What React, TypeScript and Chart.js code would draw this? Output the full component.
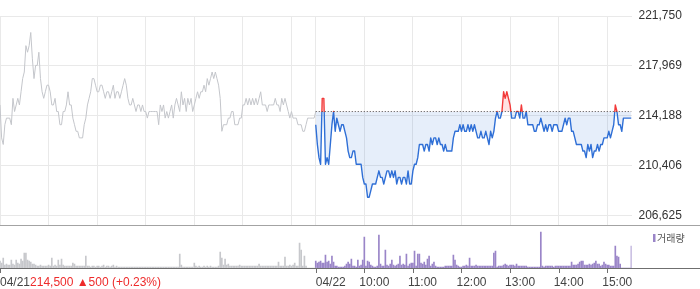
import React, { useEffect, useRef } from "react";
import { Chart, registerables } from "chart.js";

Chart.register(...registerables);

const PREV_CLOSE = 214500;
const SESSION_MINUTES = 390;
const STEP_MINUTES = 2;
const HOUR_OFFSETS = [0, 60, 120, 180, 240, 300, 360];
const DAY_LABELS = ["04/21", "04/22"];
const HOUR_LABELS = ["10:00", "11:00", "12:00", "13:00", "14:00", "15:00"];
const PREV_DAY_SUMMARY = "214,500 \u25B2500 (+0.23%)";
const VOLUME_LABEL = "거래량";
const PRICE_TICKS = [206625, 210406.25, 214187.5, 217968.75, 221750];
const PRICE_MIN = 205889;
const PRICE_MAX = 221750;
const VOLUME_MAX = 42;

const prevDayPrices = [
  215000, 212500, 212000, 213500, 214000, 214000, 214000, 213500, 215500, 214500,
  215000, 215500, 215000, 216000, 217000, 217500, 219500, 219000, 219500, 220500,
  218500, 217000, 218000, 218000, 219000, 217000, 216000, 215500, 216000, 216500,
  216500, 216000, 215000, 215000, 215500, 214500, 214500, 213500, 213500, 214500,
  214500, 215000, 216000, 215000, 215000, 214000, 213500, 213000, 213000, 212500,
  212500, 212500, 213500, 214000, 215000, 215500, 216000, 217000, 217000, 216500,
  216000, 216000, 216500, 216500, 216000, 215500, 216000, 216000, 215500, 216000,
  216500, 215500, 216000, 216000, 215500, 216000, 216500, 217000, 216500, 215500,
  215000, 215000, 215500, 215000, 214500, 215000, 215000, 214500, 215000, 214500,
  214500, 214000, 214500, 214500, 214500, 214500, 214500, 214500, 213500, 215000,
  214500, 215000, 214000, 214500, 214000, 214500, 215000, 214000, 215000, 215500,
  215000, 214500, 216000, 215000, 215500, 214500, 215500, 215000, 215500, 214500,
  215000, 215500, 216000, 215500, 216000, 216000, 216500, 216000, 217000, 216500,
  217000, 217500, 217000, 217500, 217000, 216500, 215500, 213000, 213500, 213500,
  213500, 214000, 214000, 214500, 214500, 213500, 213500, 213500, 214000, 214000,
  215000, 215000, 215500, 215000, 215500, 215000, 215500, 215000, 215500, 215000,
  215500, 216000, 215000, 215000, 215000, 214500, 215000, 215000, 215000, 215000,
  215500, 215000, 215000, 214500, 215500, 215000, 215500, 215000, 214500, 214000,
  214500, 214000, 214000, 214000, 213500, 213500, 213500, 213000, 213000, 213500,
  214000, 214000, 214000, 214000, 214000, 214500,
];

const todayPrices = [
  213500, 212000, 211000, 210500, 215500, 215500, 210500, 211000, 210500, 212000,
  213500, 214500, 213000, 214000, 213500, 213000, 213500, 213500, 213000, 212500,
  211500, 211000, 211000, 211500, 211500, 210500, 210500, 210500, 210500, 209500,
  209000, 209000, 208000, 208000, 208500, 209000, 209000, 209000, 209500, 210000,
  209500, 209500, 209000, 209500, 210000, 210000, 209500, 210000, 209500, 210000,
  209000, 209500, 209500, 209000, 209500, 209500, 209000, 210000, 209000, 209000,
  210000, 210500, 210500, 211000, 212000, 212000, 212000, 211500, 212000, 212000,
  211500, 212500, 212000, 212500, 212500, 212000, 212500, 212000, 212000, 211500,
  212000, 211500, 211500, 211500, 211500, 212500, 213000, 213000, 213000, 213500,
  213000, 213500, 213000, 213000, 213500, 213000, 213500, 213000, 213500, 213000,
  212500, 212500, 213000, 212500, 212500, 213000, 212500, 212000, 213000, 212500,
  213000, 214000, 214500, 214000, 214000, 214500, 216000, 215500, 216000, 215500,
  215000, 214000, 214000, 214000, 214500, 214500, 214000, 215000, 214000, 214000,
  214500, 213500, 213500, 213500, 213500, 213000, 213000, 213500, 213500, 214000,
  213500, 213000, 213500, 213000, 213500, 213500, 213000, 213500, 213500, 213500,
  213000, 213000, 213000, 213500, 214000, 213500, 214000, 214000, 213000, 213000,
  212500, 212000, 212000, 212000, 212000, 211500, 211500, 211000, 212000, 211500,
  212000, 211000, 211500, 211500, 212000, 211500, 212000, 212000, 212500, 212500,
  212500, 213000, 212500, 213000, 213500, 215000, 214500, 213500, 213500, 213000,
  214000, 214000, 214000, 214000, 214000, 214000,
];

const prevDayVolume = [
  7, 5, 10, 3, 4, 3, 3, 8, 4, 3,
  8, 5, 4, 9, 7, 15, 15, 8, 7, 6,
  4, 4, 3, 2, 2, 3, 2, 2, 2, 2,
  3, 2, 10, 2, 3, 2, 8, 3, 9, 3,
  2, 2, 2, 2, 2, 5, 4, 2, 2, 2,
  2, 2, 2, 12, 2, 2, 1, 2, 2, 1,
  2, 2, 1, 2, 3, 1, 2, 2, 1, 2,
  3, 1, 2, 1, 1, 1, 1, 1, 1, 1,
  1, 1, 1, 1, 1, 1, 1, 1, 1, 1,
  1, 1, 1, 1, 1, 1, 1, 1, 1, 1,
  1, 1, 1, 1, 1, 1, 1, 1, 1, 1,
  1, 14, 3, 1, 1, 1, 1, 1, 1, 1,
  5, 2, 1, 2, 1, 1, 2, 1, 2, 1,
  2, 1, 1, 1, 1, 2, 16, 10, 3, 9,
  3, 4, 2, 2, 2, 2, 2, 2, 3, 2,
  2, 2, 2, 2, 2, 2, 2, 2, 2, 2,
  4, 2, 2, 2, 2, 2, 2, 2, 2, 2,
  2, 2, 6, 2, 2, 2, 11, 2, 2, 3,
  2, 3, 5, 2, 2, 25, 18, 2, 12, 2,
  0, 0, 0, 0, 0, 0,
];

const todayVolume = [
  7, 5, 6, 7, 5, 5, 13, 6, 7, 4,
  12, 6, 2, 2, 1, 1, 1, 1, 2, 4,
  6, 4, 9, 2, 2, 1, 8, 2, 3, 8,
  31, 2, 7, 6, 3, 2, 1, 1, 2, 33,
  4, 2, 2, 18, 3, 2, 4, 8, 3, 2,
  3, 4, 12, 3, 4, 3, 14, 2, 4, 5,
  5, 17, 2, 14, 14, 5, 4, 6, 3, 9,
  12, 2, 4, 6, 2, 1, 1, 1, 1, 1,
  2, 2, 2, 2, 2, 13, 8, 3, 2, 1,
  1, 2, 2, 3, 2, 10, 2, 2, 2, 3,
  2, 2, 2, 2, 2, 2, 2, 2, 2, 2,
  15, 17, 1, 2, 2, 2, 3, 4, 3, 2,
  3, 3, 3, 2, 4, 2, 2, 2, 2, 2,
  2, 1, 1, 1, 1, 1, 1, 1, 1, 36,
  2, 1, 2, 2, 2, 2, 2, 1, 2, 2,
  2, 2, 2, 2, 2, 2, 2, 2, 6, 3,
  3, 3, 4, 6, 7, 7, 3, 3, 3, 4,
  3, 4, 5, 7, 4, 4, 2, 3, 6, 4,
  3, 3, 2, 2, 2, 22, 12, 11, 4, 0,
  0, 0, 0, 0, 0, 22,
];

const LABEL_FONT = '12px "Liberation Sans", Arial, sans-serif';
const GRID_COLOR = "#e9e9e9";
const BLUE = "#2f6fd6";
const RED = "#f23a3a";

const gridMinutes = [
  ...HOUR_OFFSETS.map((h) => h),
  ...HOUR_OFFSETS.map((h) => SESSION_MINUTES + h),
];

function splitColor(chart: any) {
  const { ctx, chartArea, scales } = chart;
  if (!chartArea || !scales || !scales.y) return BLUE;
  const y = scales.y.getPixelForValue(PREV_CLOSE);
  const h = chartArea.bottom - chartArea.top;
  let t = (y - chartArea.top) / h;
  t = Math.min(Math.max(t, 0), 1);
  const g = ctx.createLinearGradient(0, chartArea.top, 0, chartArea.bottom);
  g.addColorStop(0, RED);
  g.addColorStop(t, RED);
  g.addColorStop(t, BLUE);
  g.addColorStop(1, BLUE);
  return g;
}

const priceDecor = {
  id: "priceDecor",
  afterDraw(chart: any) {
    const { ctx, chartArea } = chart;
    ctx.save();
    ctx.strokeStyle = "#a3a3a3";
    ctx.lineWidth = 1;
    ctx.beginPath();
    ctx.moveTo(0, chartArea.bottom + 0.5);
    ctx.lineTo(chart.width, chartArea.bottom + 0.5);
    ctx.stroke();
    ctx.restore();
  },
};

const volumeDecor = {
  id: "volumeDecor",
  afterDraw(chart: any) {
    const { ctx, chartArea, scales } = chart;
    const xs = scales.x;
    const base = chartArea.bottom;
    ctx.save();
    ctx.strokeStyle = "#6f6f6f";
    ctx.lineWidth = 1;
    ctx.beginPath();
    ctx.moveTo(0, base + 0.5);
    ctx.lineTo(chart.width, base + 0.5);
    const tickMinutes = [0, ...HOUR_OFFSETS.map((h) => SESSION_MINUTES + h)];
    for (const m of tickMinutes) {
      const x = Math.round(xs.getPixelForValue(m)) + 0.5;
      ctx.moveTo(x, base);
      ctx.lineTo(x, base + 5);
    }
    ctx.stroke();

    ctx.font = LABEL_FONT;
    ctx.textBaseline = "middle";
    ctx.textAlign = "left";
    const ly = base + 14.5;
    const x0 = xs.getPixelForValue(0);
    ctx.fillStyle = "#444";
    ctx.fillText(DAY_LABELS[0], x0, ly);
    const w = ctx.measureText(DAY_LABELS[0]).width;
    ctx.fillStyle = "#ee2b2b";
    ctx.fillText(PREV_DAY_SUMMARY, x0 + w, ly);
    ctx.fillStyle = "#444";
    ctx.fillText(DAY_LABELS[1], xs.getPixelForValue(SESSION_MINUTES), ly);
    HOUR_LABELS.forEach((lab, k) => {
      const x = xs.getPixelForValue(SESSION_MINUTES + HOUR_OFFSETS[k + 1]);
      ctx.fillText(lab, x - 5, ly);
    });

    // legend
    const lx = chartArea.right + 21.5;
    ctx.fillStyle = "#9a85c8";
    ctx.fillRect(lx, 8, 2.5, 8);
    ctx.fillStyle = "#555";
    ctx.font = '10px "Noto Sans CJK KR", sans-serif';
    ctx.fillText(VOLUME_LABEL, lx + 4, 12.5);
    ctx.restore();
  },
};

export default function App() {
  const priceRef = useRef<HTMLCanvasElement | null>(null);
  const volRef = useRef<HTMLCanvasElement | null>(null);

  useEffect(() => {
    if (!priceRef.current || !volRef.current) return;

    const priceChart = new Chart(priceRef.current, {
      type: "line",
      data: {
        datasets: [
          {
            label: "prevClose",
            data: [
              { x: SESSION_MINUTES, y: PREV_CLOSE },
              { x: SESSION_MINUTES * 2, y: PREV_CLOSE },
            ],
            borderColor: "#4a4a4a",
            borderWidth: 1,
            borderDash: [1, 2],
            pointRadius: 0,
            fill: false,
          },
          {
            label: "today",
            data: todayPrices.map((p, i) => ({ x: SESSION_MINUTES + i * STEP_MINUTES, y: p })),
            borderColor: (c: any) => splitColor(c.chart),
            borderWidth: 1.4,
            borderJoinStyle: "round",
            pointRadius: 0,
            fill: {
              target: { value: PREV_CLOSE },
              above: "rgba(255,80,80,0.16)",
              below: "rgba(46,112,216,0.12)",
            },
          },
          {
            label: "prev",
            data: prevDayPrices.map((p, i) => ({ x: i * STEP_MINUTES, y: p })),
            borderColor: "#c4c6cb",
            borderWidth: 1,
            borderJoinStyle: "round",
            pointRadius: 0,
            fill: false,
          },
        ] as any,
      },
      options: {
        responsive: false,
        animation: false,
        events: [],
        layout: { padding: { top: 16, bottom: 1, left: 0, right: 0 } },
        plugins: { legend: { display: false }, tooltip: { enabled: false } },
        scales: {
          x: {
            type: "linear",
            min: 0,
            max: SESSION_MINUTES * 2,
            afterBuildTicks: (s: any) => {
              s.ticks = gridMinutes.map((v) => ({ value: v }));
            },
            ticks: { display: false },
            grid: { color: GRID_COLOR, drawTicks: false },
            border: { display: false },
          },
          y: {
            position: "right",
            min: PRICE_MIN,
            max: PRICE_MAX,
            afterBuildTicks: (s: any) => {
              s.ticks = PRICE_TICKS.map((v) => ({ value: v }));
            },
            afterFit: (s: any) => {
              s.width = 68.5;
              s.paddingTop = 0;
              s.paddingBottom = 0;
            },
            grid: { color: GRID_COLOR, drawTicks: false },
            border: { display: false },
            ticks: {
              padding: 7,
              color: "#333",
              font: { family: '"Liberation Sans", Arial, sans-serif', size: 12 },
              callback: (v: any) => Math.round(Number(v)).toLocaleString("en-US"),
            },
          },
        },
      } as any,
      plugins: [priceDecor],
    });

    const volChart = new Chart(volRef.current, {
      type: "bar",
      data: {
        datasets: [
          {
            label: "prevVolume",
            data: prevDayVolume.map((v, i) => ({ x: i * STEP_MINUTES, y: v })),
            backgroundColor: "#c7c8cc",
            barThickness: 1,
            grouped: false,
          },
          {
            label: "todayVolume",
            data: todayVolume.map((v, i) => ({ x: SESSION_MINUTES + i * STEP_MINUTES, y: v })),
            backgroundColor: "#9a85c8",
            barThickness: 1,
            grouped: false,
          },
        ] as any,
      },
      options: {
        responsive: false,
        animation: false,
        events: [],
        layout: { padding: { top: 0, bottom: 21, left: 0, right: 0 } },
        plugins: { legend: { display: false }, tooltip: { enabled: false } },
        scales: {
          x: {
            type: "linear",
            min: 0,
            max: SESSION_MINUTES * 2,
            offset: false,
            display: false,
            grid: { offset: false },
          },
          y: {
            position: "right",
            min: 0,
            max: VOLUME_MAX,
            ticks: { display: false },
            grid: { display: false },
            border: { display: false },
            afterFit: (s: any) => {
              s.width = 68.5;
              s.paddingTop = 0;
              s.paddingBottom = 0;
            },
          },
        },
      } as any,
      plugins: [volumeDecor],
    });

    return () => {
      priceChart.destroy();
      volChart.destroy();
    };
  }, []);

  return (
    <div
      style={{
        position: "absolute",
        left: 0,
        top: 0,
        width: 700,
        height: 289,
        background: "#fff",
      }}
    >
      <canvas ref={priceRef} width={700} height={226} style={{ display: "block" }} />
      <canvas ref={volRef} width={700} height={63} style={{ display: "block" }} />
    </div>
  );
}
